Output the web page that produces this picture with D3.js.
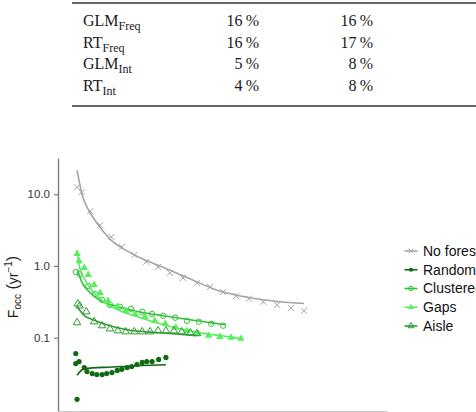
<!DOCTYPE html>
<html>
<head>
<meta charset="utf-8">
<script src="https://cdn.jsdelivr.net/npm/d3@7/dist/d3.min.js"></script>
<style>
  body { margin: 0; background: #fff; }
  svg { display: block; }
</style>
</head>
<body>
<svg id="fig"></svg>
<script>
// table rows (label, subscript) and the two percentage columns
var tableLabels = [["GLM", "Freq"], ["RT", "Freq"], ["GLM", "Int"], ["RT", "Int"]];
var tableCol1 = [16, 16, 5, 4];
var tableCol2 = [16, 17, 8, 8];

// chart: y ticks and legend names
var yTicks = [10, 1, 0.1];
var seriesNames = ["No forest", "Random", "Clustered", "Gaps", "Aisle"];

// observed points [x, Focc]
var noForestPts = [[2.9,12.5],[3.6,10.7],[4.9,5.8],[6.4,3.7],[8.1,2.53],[9.7,1.84],[11.6,1.42],[13.4,1.14],[15.2,0.97],[17.0,0.80],
  [19.0,0.68],[21.1,0.58],[23.1,0.51],[25.1,0.435],[27.1,0.38],[29.0,0.35],[31.2,0.316],[33.3,0.287],[35.4,0.26],[37.4,0.237]];
var randomPts = [[2.7,0.060],[2.7,0.0435],[3.2,0.0465],[4.0,0.0383],[4.4,0.0337],[5.2,0.0316],[5.9,0.0306],[6.7,0.0306],[7.4,0.0316],
  [8.2,0.0326],[9.0,0.035],[9.7,0.0362],[10.5,0.0383],[11.2,0.0396],[12.0,0.0423],[12.8,0.0452],[13.5,0.0465],[14.3,0.0465],
  [15.3,0.0497],[16.4,0.053],[2.9,0.0138]];
var clusteredPts = [[2.7,0.826],[3.3,0.774],[4.6,0.527],[5.6,0.408],[6.7,0.337],[7.9,0.287],[9.4,0.27],[11.1,0.253],[12.8,0.23],
  [14.3,0.215],[16.0,0.202],[17.8,0.19],[19.6,0.172],[21.4,0.167],[23.3,0.156],[25.1,0.147]];
var gapsPts = [[2.9,1.47],[3.2,1.17],[4.0,0.94],[4.6,0.75],[5.5,0.545],[6.4,0.42],[7.6,0.327],[9.0,0.27],[10.3,0.237],[11.7,0.215],
  [13.2,0.196],[14.7,0.172],[16.3,0.156],[17.9,0.138],[19.6,0.125],[21.3,0.114],[22.9,0.107],[24.6,0.103],[26.3,0.100],[27.8,0.097]];
var aislePts = [[2.9,0.162],[3.0,0.297],[3.3,0.278],[4.3,0.23],[5.5,0.167],[6.7,0.147],[7.9,0.133],[9.1,0.125],[10.3,0.121],
  [11.6,0.121],[12.8,0.121],[14.0,0.121],[15.2,0.125],[16.4,0.125],[17.6,0.125],[18.8,0.121],[20.1,0.117],[21.1,0.114]];

// fitted curves [x, Focc]
var noForestFit = [[2.9,21.5],[3.2,15.6],[3.6,10.3],[4.4,6.6],[5.5,4.5],[6.7,3.16],[7.9,2.37],[10.5,1.62],[12.9,1.25],[15.5,1.0],
  [19.0,0.73],[24.2,0.46],[29.2,0.36],[33.3,0.32],[37.4,0.30]];
var randomFit = [[2.9,0.030],[4.0,0.037],[8.2,0.039],[12.8,0.041],[16.4,0.042]];
var clusteredFit = [[3.0,0.88],[3.6,0.60],[4.6,0.45],[5.6,0.37],[7.1,0.306],[8.7,0.278],[10.9,0.245],[14.0,0.215],[17.0,0.196],
  [20.1,0.178],[23.1,0.162],[25.4,0.152]];
var gapsFit = [[2.9,1.67],[3.3,0.94],[4.1,0.64],[5.2,0.45],[6.4,0.348],[7.9,0.278],[10.2,0.222],[12.5,0.19],[15.5,0.156],
  [18.5,0.133],[21.6,0.117],[24.6,0.107],[27.8,0.097]];
var aisleFit = [[2.9,0.27],[4.1,0.20],[5.3,0.178],[7.9,0.147],[10.5,0.129],[15.5,0.117],[21.1,0.107]];

var W = 476, H = 412;
var svg = d3.select("#fig").attr("width", W).attr("height", H);

// ---- table ----
var tab = svg.append("g")
  .style("font-family", "'Liberation Serif', 'Times New Roman', serif")
  .style("font-size", "16px")
  .attr("fill", "#1a1a1a");

tab.append("line").attr("x1", 72).attr("x2", W).attr("y1", 3).attr("y2", 3)
  .attr("stroke", "#333").attr("stroke-width", 1.4);
tab.append("line").attr("x1", 72).attr("x2", W).attr("y1", 106).attr("y2", 106)
  .attr("stroke", "#333").attr("stroke-width", 1.4);

var rowY = d3.scaleLinear().domain([0, 3]).range([26, 91]);

tableLabels.forEach(function(d, i) {
  var t = tab.append("text").attr("x", 83).attr("y", rowY(i));
  t.append("tspan").text(d[0]);
  t.append("tspan").attr("dy", 4).style("font-size", "12px").text(d[1]);
  tab.append("text").attr("x", 259).attr("y", rowY(i)).attr("text-anchor", "end")
    .text(tableCol1[i] + "\u2009%");
  tab.append("text").attr("x", 373).attr("y", rowY(i)).attr("text-anchor", "end")
    .text(tableCol2[i] + "\u2009%");
});

// ---- chart ----
var margin = {top: 158, left: 58},
    width = 329,
    height = 253;
var g = svg.append("g").attr("transform", "translate(" + margin.left + "," + margin.top + ")");

var x = d3.scaleLinear().domain([0, 50]).range([0, width]),
    y = d3.scaleLog().domain([0.0095, 32]).range([height, 0]);

var colors = {
  "No forest": "#a4a4a4",
  "Random": "#0f6a12",
  "Clustered": "#30c438",
  "Gaps": "#55f05a",
  "Aisle": "#2f9c33"
};

var yAxis = d3.axisLeft(y).tickValues(yTicks).tickFormat(d3.format(".1f"))
  .tickSize(4).tickSizeOuter(0).tickPadding(4);
var yG = g.append("g").call(yAxis);
yG.select(".domain").attr("stroke", "#7d7d7d").attr("stroke-width", 1.4);
yG.selectAll(".tick line").attr("stroke", "#7d7d7d").attr("stroke-width", 1.2);
yG.selectAll(".tick text").attr("fill", "#333")
  .style("font-family", "'Liberation Sans', Arial, sans-serif").style("font-size", "11.5px");

var xG = g.append("g").attr("transform", "translate(0," + height + ")")
  .call(d3.axisBottom(x).tickValues([]).tickSizeOuter(0));
xG.select(".domain").attr("stroke", "#c8c8c8").attr("stroke-width", 1.2);

// y label
var yl = svg.append("text")
  .attr("transform", "translate(18,287) rotate(-90)")
  .attr("text-anchor", "middle")
  .attr("fill", "#222")
  .style("font-family", "'Liberation Sans', Arial, sans-serif")
  .style("font-size", "14px");
yl.append("tspan").text("F");
yl.append("tspan").attr("dy", 3).style("font-size", "10px").text("occ");
yl.append("tspan").attr("dy", -3).style("font-size", "16px").text(" (");
yl.append("tspan").text("yr");
yl.append("tspan").attr("dy", -6).style("font-size", "10px").text("\u22121");
yl.append("tspan").attr("dy", 6).style("font-size", "16px").text(")");

var line = d3.line()
  .curve(d3.curveMonotoneX)
  .x(function(d) { return x(d[0]); })
  .y(function(d) { return y(d[1]); });

var series = [
  {id: "No forest", pts: noForestPts, fit: noForestFit, shape: "cross"},
  {id: "Random", pts: randomPts, fit: randomFit, shape: "dot"},
  {id: "Clustered", pts: clusteredPts, fit: clusteredFit, shape: "circle"},
  {id: "Gaps", pts: gapsPts, fit: gapsFit, shape: "tri"},
  {id: "Aisle", pts: aislePts, fit: aisleFit, shape: "opentri"}
];

function drawShape(sel, shape, color, s) {
  s = s || 1;
  if (shape == "cross") {
    var r = 3 * s;
    sel.append("path").attr("d", "M" + -r + "," + -r + "L" + r + "," + r + "M" + -r + "," + r + "L" + r + "," + -r)
      .attr("stroke", color).attr("stroke-width", 1).attr("fill", "none");
  } else if (shape == "dot") {
    sel.append("circle").attr("r", 2.6 * s).attr("fill", color);
  } else if (shape == "circle") {
    sel.append("circle").attr("r", 2.7 * s).attr("fill", "none").attr("stroke", color).attr("stroke-width", 1);
  } else if (shape == "tri") {
    sel.append("path").attr("d", d3.symbol(d3.symbolTriangle, 24 * s * s)()).attr("fill", color);
  } else {
    sel.append("path").attr("d", d3.symbol(d3.symbolTriangle, 24 * s * s)())
      .attr("fill", "none").attr("stroke", color).attr("stroke-width", 1);
  }
}

series.forEach(function(s) {
  var sg = g.append("g").attr("class", "series");
  sg.selectAll(".pt").data(s.pts).enter().append("g")
    .attr("class", "pt")
    .attr("transform", function(d) { return "translate(" + x(d[0]) + "," + y(d[1]) + ")"; })
    .each(function() { drawShape(d3.select(this), s.shape, colors[s.id]); });
  sg.append("path")
    .attr("d", line(s.fit))
    .attr("fill", "none")
    .attr("stroke", colors[s.id])
    .attr("stroke-width", 1.6);
});

// legend
var legY = d3.scaleLinear().domain([0, 4]).range([251, 326]);
var leg = svg.append("g")
  .style("font-family", "'Liberation Sans', Arial, sans-serif")
  .style("font-size", "14px");
series.forEach(function(s, i) {
  var lg = leg.append("g").attr("transform", "translate(411," + legY(i) + ")");
  lg.append("line").attr("x1", -6.5).attr("x2", 6.5).attr("stroke", colors[s.id]).attr("stroke-width", 1.6);
  drawShape(lg, s.shape, colors[s.id], 0.8);
  leg.append("text").attr("x", 423).attr("y", legY(i)).attr("dy", "0.35em")
    .attr("fill", "#111").text(s.id);
});
</script>
</body>
</html>
